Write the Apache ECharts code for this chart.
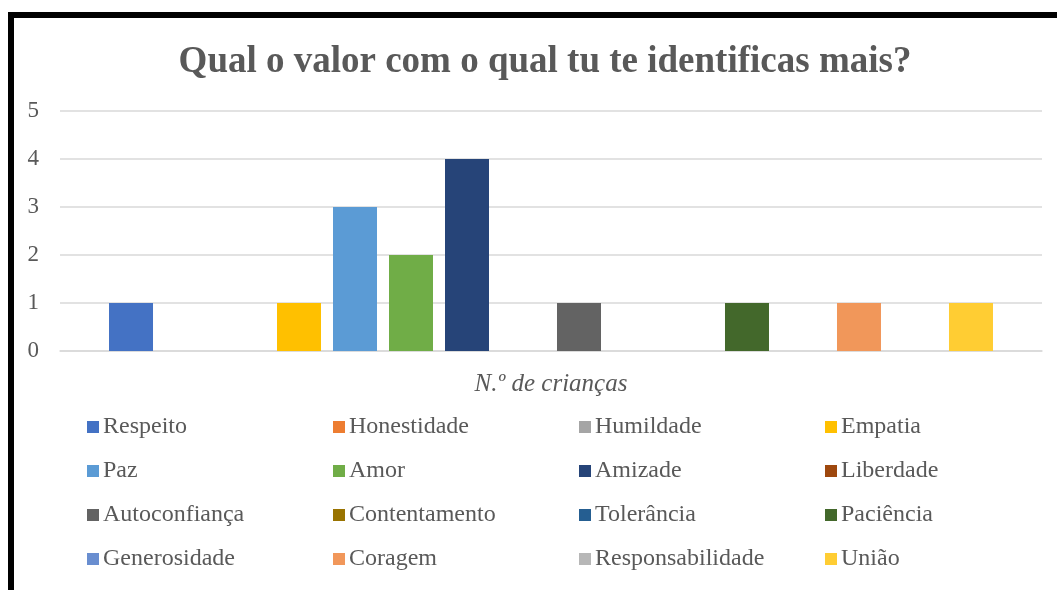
<!DOCTYPE html>
<html>
<head>
<meta charset="utf-8">
<script src="https://cdn.jsdelivr.net/npm/echarts@6/dist/echarts.min.js"></script>
<style>
  html, body { margin: 0; padding: 0; background: #fff; }
  #frame {
    position: absolute; left: 8px; top: 12px; width: 1060px; height: 600px;
    border-left: 6px solid #000; border-top: 6px solid #000;
  }
  #chart { position: absolute; left: 0; top: 0; width: 1057px; height: 590px; }
</style>
</head>
<body>
<div id="frame"></div>
<div id="chart"></div>
<script>
// dados
var categorias = ["N.º de crianças"];
var valores = ["Respeito", "Honestidade", "Humildade", "Empatia",
               "Paz", "Amor", "Amizade", "Liberdade",
               "Autoconfiança", "Contentamento", "Tolerância", "Paciência",
               "Generosidade", "Coragem", "Responsabilidade", "União"];
var contagens = [1, 0, 0, 1, 3, 2, 4, 0, 1, 0, 0, 1, 0, 1, 0, 1];
var cores = ["#4472C4", "#ED7D31", "#A5A5A5", "#FFC000",
             "#5B9BD5", "#70AD47", "#264478", "#9E480E",
             "#636363", "#997300", "#255E91", "#43682B",
             "#698ED0", "#F1975A", "#B7B7B7", "#FFCD33"];
var yTicks = [0, 1, 2, 3, 4, 5];

var font = "'Liberation Serif', 'Times New Roman', serif";
var chart = echarts.init(document.getElementById("chart"));

var series = [];
for (var i = 0; i < valores.length; i++) {
  series.push({
    name: valores[i],
    type: "bar",
    barWidth: 44,
    barGap: "27.27%",
    itemStyle: { color: cores[i] },
    data: [contagens[i]]
  });
}

// legenda em 4 colunas
var colLeft = [87, 333, 579, 825];
var legends = [];
for (var c = 0; c < 4; c++) {
  var names = [];
  for (var r = 0; r < 4; r++) names.push(valores[r * 4 + c]);
  legends.push({
    orient: "vertical",
    left: colLeft[c],
    top: 415,
    padding: 0,
    itemWidth: 12,
    itemHeight: 12,
    itemGap: 20,
    icon: "rect",
    selectedMode: false,
    data: names,
    textStyle: { fontFamily: font, fontSize: 24, color: "#595959", lineHeight: 24, padding: [0, 0, 0, -1] }
  });
}

chart.setOption({
  animation: false,
  title: {
    text: "Qual o valor com o qual tu te identificas mais?",
    left: 540,
    textAlign: "center",
    top: 39,
    textStyle: { fontFamily: font, fontSize: 37, fontWeight: "bold", color: "#595959" }
  },
  legend: legends,
  grid: { left: 60, right: 15, top: 111, height: 240 },
  xAxis: {
    type: "category",
    data: categorias,
    axisLine: { show: true, lineStyle: { color: "#d9d9d9", width: 1.5 } },
    axisTick: { show: false },
    axisLabel: { show: false },
    name: categorias[0],
    nameLocation: "middle",
    nameGap: 21,
    nameTextStyle: { fontFamily: font, fontSize: 25, fontStyle: "italic", color: "#595959" }
  },
  yAxis: {
    type: "value",
    min: 0,
    max: 5,
    interval: 1,
    axisLine: { show: false },
    axisTick: { show: false },
    splitLine: { lineStyle: { color: "#d9d9d9", width: 1.5 } },
    axisLabel: {
      margin: 21,
      fontFamily: font,
      fontSize: 23,
      color: "#595959",
      formatter: function (v) { return yTicks.indexOf(v) >= 0 ? String(v) : ""; }
    }
  },
  series: series
});
</script>
</body>
</html>
